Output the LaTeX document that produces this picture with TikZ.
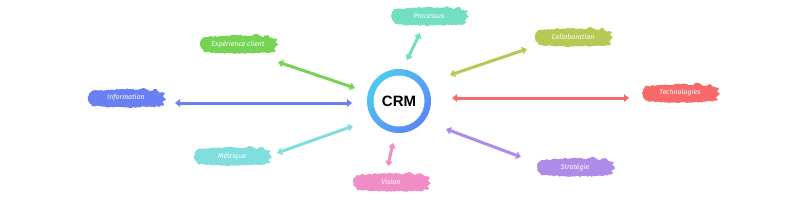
\documentclass[tikz,border=0pt]{standalone}
\usepackage{fontspec}
\setmainfont{Liberation Sans}
\newfontfamily\brushfont{Fira Sans}
\usetikzlibrary{arrows.meta,decorations.pathmorphing,backgrounds}
\definecolor{cExp}{HTML}{77D353}
\definecolor{cProc}{HTML}{72DEC2}
\definecolor{cColl}{HTML}{B5C955}
\definecolor{cInfo}{HTML}{6A80F2}
\definecolor{cTech}{HTML}{F86A6A}
\definecolor{cMetr}{HTML}{80DEDF}
\definecolor{cVis}{HTML}{F08DC6}
\definecolor{cStra}{HTML}{AE8BE8}
\definecolor{ringA}{HTML}{4FC8F2}
\definecolor{ringB}{HTML}{5A86F6}
\begin{document}
\begin{tikzpicture}[x=1pt,y=-1pt,
  lbl/.style={minimum width=74pt, minimum height=18pt, inner sep=0pt, text=white,
    font=\brushfont\itshape\fontsize{7}{8}\selectfont},
  brushfill/.style={fill=#1, decorate, decoration={random steps,segment length=1.6pt,amplitude=0.7pt}},
  link/.style={draw=#1, line width=3pt, {Triangle[length=5pt,width=7.5pt]}-{Triangle[length=5pt,width=7.5pt]}},
]
\pgfmathsetseed{11}
\path[use as bounding box] (0,0) rectangle (800,202);

% central ring
\shade[top color=ringA, bottom color=ringB, shading angle=45] (399,101) circle (32pt);
\fill[white] (399,101) circle (25.5pt);
\node[font=\bfseries\fontsize{15}{16}\selectfont] (crm) at (399,101) {CRM};

% labels
\node[lbl] (expn) at (238,44)  {Expérience client};
\node[lbl] (proc) at (429,16)  {Processus};
\node[lbl] (coll) at (573,37)  {Collaboration};
\node[lbl] (info) at (126,98)  {Information};
\node[lbl] (tech) at (680,93)  {Technologies};
\node[lbl] (metr) at (232,156) {Métrique};
\node[lbl] (visi) at (391,182) {Vision};
\node[lbl] (stra) at (575,167) {Stratégie};

% brush strokes behind the labels
\begin{scope}[on background layer]
  \foreach \n/\c in {expn/cExp, proc/cProc, coll/cColl, info/cInfo, tech/cTech, metr/cMetr, visi/cVis, stra/cStra}{
    \path[brushfill=\c, shift={(\n.center)}]
      (-34,-7) -- (-37,-4) -- (-38,0) -- (-37,4) -- (-34,8) -- (-20,9) -- (0,9.5)
      -- (20,9) -- (32,8.5) -- (38,7) -- (36,4) -- (40,1) -- (37,-2) -- (39,-5)
      -- (33,-6) -- (30,-9) -- (24,-7) -- (18,-10) -- (12,-8) -- (0,-9) -- (-18,-8) -- cycle;
  }
\end{scope}

% connector end points
\coordinate (e1) at (278,62);  \coordinate (e2) at (355,88);
\coordinate (p1) at (407,60);  \coordinate (p2) at (420,33);
\coordinate (c1) at (450,75);  \coordinate (c2) at (527,49);
\coordinate (i1) at (175,103); \coordinate (i2) at (352,103);
\coordinate (t1) at (452,98);  \coordinate (t2) at (629,98);
\coordinate (m1) at (277,153); \coordinate (m2) at (353,126);
\coordinate (v1) at (388,166); \coordinate (v2) at (393,143);
\coordinate (s1) at (446,129); \coordinate (s2) at (521,157);

\draw[link=cExp]  (e1) -- (e2);
\draw[link=cProc] (p1) -- (p2);
\draw[link=cColl] (c1) -- (c2);
\draw[link=cInfo] (i1) -- (i2);
\draw[link=cTech] (t1) -- (t2);
\draw[link=cMetr] (m1) -- (m2);
\draw[link=cVis]  (v1) -- (v2);
\draw[link=cStra] (s1) -- (s2);
\end{tikzpicture}
\end{document}
